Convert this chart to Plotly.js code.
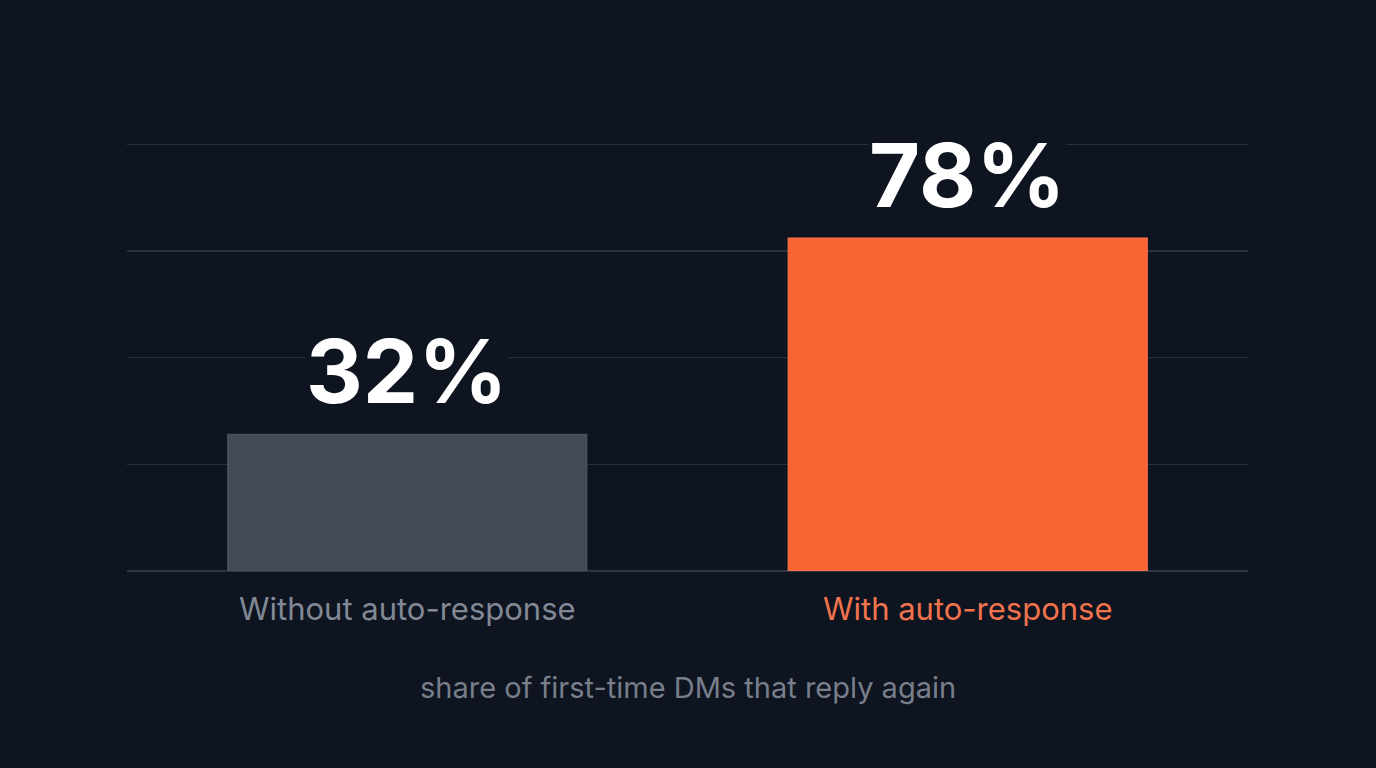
<!DOCTYPE html>
<html>
<head>
<meta charset="utf-8">
<script src="https://cdn.plot.ly/plotly-3.0.1.min.js"></script>
<style>
  html, body { margin: 0; padding: 0; background: #0e1420; }
  #chart { width: 1376px; height: 768px; }
</style>
</head>
<body>
<div id="chart"></div>
<script>
var groups = ['Without auto-response', 'With auto-response'];
var shares = [32, 78];
var shareLabels = ['32%', '78%'];
var barColors = ['#434a57', '#fb6433'];
var edgeColors = ['#4b5261', '#f97046'];
var labelColors = ['#828995', '#f0734d'];

var trace = {
    type: 'bar',
    x: groups,
    y: shares,
    marker: {color: barColors, line: {color: edgeColors, width: 1.5}},
    hoverinfo: 'skip'
};

var notes = [];
for (var i = 0; i < groups.length; i++) {
    notes.push({
        x: groups[i], y: shares[i], xref: 'x', yref: 'y',
        text: '<b>' + shareLabels[i] + '</b>',
        showarrow: false, yanchor: 'bottom', yshift: 9,
        bgcolor: '#0e1420', borderpad: 0,
        font: {family: 'Inter, sans-serif', size: 88, color: '#ffffff'}
    });
}
notes.push({
    x: 0.5, y: -0.27, xref: 'paper', yref: 'paper',
    text: 'share of first-time DMs that reply again',
    showarrow: false, yanchor: 'middle',
    font: {family: 'Inter, sans-serif', size: 29, color: '#787e8a'}
});

var layout = {
    width: 1376,
    height: 768,
    paper_bgcolor: '#0e1420',
    plot_bgcolor: '#0e1420',
    margin: {l: 127, r: 128, t: 140, b: 197},
    bargap: 0.36,
    showlegend: false,
    xaxis: {
        tickmode: 'array',
        tickvals: groups,
        ticktext: groups.map(function(g, i) {
            return '<span style="color:' + labelColors[i] + '">' + g + '</span>';
        }),
        tickfont: {family: 'Inter, sans-serif', size: 31},
        ticks: '', ticklabelstandoff: 17,
        showline: false, zeroline: false, showgrid: false
    },
    yaxis: {
        range: [0, 101],
        tickvals: [0, 25, 50, 75, 100],
        showticklabels: false,
        gridcolor: '#29313f',
        gridwidth: 1.5,
        zeroline: true, zerolinecolor: '#2e3644', zerolinewidth: 1.5
    },
    annotations: notes
};

Plotly.newPlot('chart', [trace], layout, {displayModeBar: false, staticPlot: true});
</script>
</body>
</html>
